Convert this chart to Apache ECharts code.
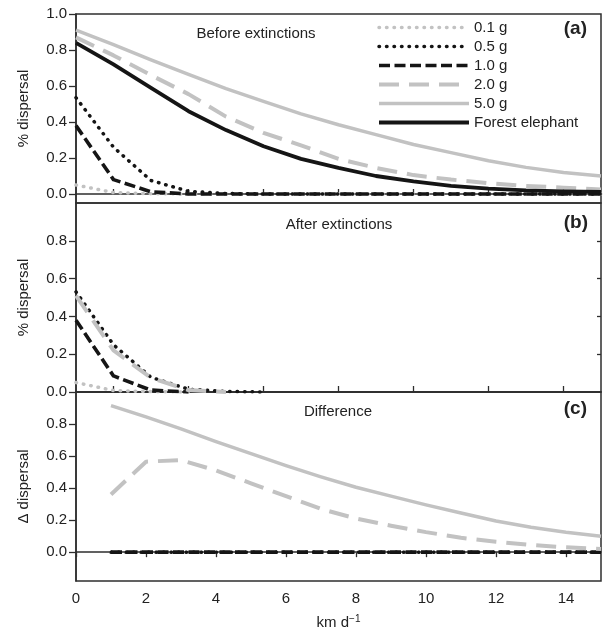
<!DOCTYPE html>
<html><head><meta charset="utf-8">
<script src="https://cdn.jsdelivr.net/npm/echarts@6/dist/echarts.min.js"></script>
<style>html,body{margin:0;padding:0;background:#fff}#c{width:605px;height:633px}</style>
</head><body><div id="c"></div>
<script>
// distance (km per day) for panels a & b, and for the difference panel c
const distAB = [0,1,2,3,4,5,6,7,8,9,10,11,12,13,14];
const distC  = [1,2,3,4,5,6,7,8,9,10,11,12,13,14,15];

const seriesNames = ['0.1 g','0.5 g','1.0 g','2.0 g','5.0 g','Forest elephant'];

// (a) Before extinctions
const before01  = [0.05,0.008,0.002,0,0,0,0,0,0,0,0,0,0,0,0];
const before05  = [0.535,0.26,0.075,0.015,0.003,0,0,0,0,0,0,0,0,0,0];
const before10  = [0.38,0.08,0.012,0,0,0,0,0,0,0,0,0,0,0,0];
const before20  = [0.87,0.77,0.66,0.555,0.43,0.34,0.27,0.195,0.145,0.105,0.08,0.06,0.045,0.035,0.025];
const before50  = [0.91,0.83,0.745,0.665,0.585,0.515,0.445,0.385,0.33,0.275,0.23,0.185,0.148,0.12,0.10];
const beforeEle = [0.84,0.72,0.59,0.46,0.355,0.265,0.195,0.145,0.10,0.07,0.045,0.03,0.02,0.015,0.012];

// (b) After extinctions (null once the curve has reached zero)
const after01 = [0.05,0.008,0.002,0,null,null,null,null,null,null,null,null,null,null,null];
const after05 = [0.53,0.25,0.078,0.015,0.003,0,null,null,null,null,null,null,null,null,null];
const after10 = [0.38,0.085,0.01,0,null,null,null,null,null,null,null,null,null,null,null];
const after20 = [0.51,0.22,0.075,0.01,0,null,null,null,null,null,null,null,null,null,null];

// (c) Difference
const diff01 = [0,0,0,0,0,0,0,0,0,0,0,0,0,0,0];
const diff05 = [0,0,0,0,0,0,0,0,0,0,0,0,0,0,0];
const diff10 = [0,0,0,0,0,0,0,0,0,0,0,0,0,0,0];
const diff20 = [0.36,0.565,0.575,0.51,0.43,0.35,0.27,0.21,0.165,0.125,0.09,0.065,0.045,0.03,0.02];
const diff50 = [0.915,0.845,0.77,0.69,0.615,0.54,0.47,0.405,0.35,0.295,0.245,0.195,0.155,0.125,0.10];

// tick values
const yTicksA = [0,0.2,0.4,0.6,0.8,1.0];
const yTicksB = [0,0.2,0.4,0.6,0.8];
const yTicksBRight = [0.2,0.4,0.6,0.8];
const yTicksC = [0,0.2,0.4,0.6,0.8];
const xTicksAB = [1,3,5,7,9,11,13];
const xTicksC = [0,2,4,6,8,10,12,14];

const FONT = '"Liberation Sans", Arial, Helvetica, sans-serif';
const GRAY = '#c2c2c2', BLACK = '#151515', AXIS = '#2e2e2e', TXT = '#222';

const styleOf = {
  '0.1 g': {color: GRAY, width: 3.5, type: [0.5, 7], cap: 'round'},
  '0.5 g': {color: BLACK, width: 3.5, type: [0.5, 7], cap: 'round'},
  '1.0 g': {color: BLACK, width: 3.6, type: [11, 4.5], cap: 'butt'},
  '2.0 g': {color: GRAY, width: 4, type: [20, 10], cap: 'butt'},
  '5.0 g': {color: GRAY, width: 3.5, type: 'solid', cap: 'butt'},
  'Forest elephant': {color: BLACK, width: 3.8, type: 'solid', cap: 'butt'}
};

function lineStyleFor(name) {
  const s = styleOf[name];
  return {color: s.color, width: s.width, type: s.type, cap: s.cap, join: 'round'};
}

function mk(name, xs, ys, gi, order) {
  return {
    name: name, type: 'line', xAxisIndex: gi, yAxisIndex: gi,
    data: xs.map((x, i) => [x, ys[i]]),
    symbol: 'none', showSymbol: false, animation: false, z: 2 + order, connectNulls: false,
    lineStyle: lineStyleFor(name),
    itemStyle: {color: styleOf[name].color}
  };
}

const series = [
  mk('0.1 g', distAB, before01, 0, 0),
  mk('0.5 g', distAB, before05, 0, 1),
  mk('1.0 g', distAB, before10, 0, 2),
  mk('2.0 g', distAB, before20, 0, 3),
  mk('5.0 g', distAB, before50, 0, 4),
  mk('Forest elephant', distAB, beforeEle, 0, 5),
  mk('0.1 g', distAB, after01, 1, 0),
  mk('0.5 g', distAB, after05, 1, 1),
  mk('1.0 g', distAB, after10, 1, 2),
  mk('2.0 g', distAB, after20, 1, 3),
  mk('0.1 g', distC, diff01, 2, 0),
  mk('0.5 g', distC, diff05, 2, 1),
  mk('1.0 g', distC, diff10, 2, 2),
  mk('2.0 g', distC, diff20, 2, 3),
  mk('5.0 g', distC, diff50, 2, 4)
];

const gridBase = {left: 76, right: 4, height: 189, show: true, borderColor: AXIS, borderWidth: 1.5, backgroundColor: 'transparent', containLabel: false};
const axisLineCommon = {show: true, lineStyle: {color: AXIS, width: 1.5}};
const labelCommon = {color: TXT, fontSize: 15, fontFamily: FONT};
const fmt1 = v => Number(v).toFixed(1);

const option = {
  backgroundColor: '#fff',
  animation: false,
  grid: [
    Object.assign({top: 14}, gridBase),
    Object.assign({top: 203}, gridBase),
    Object.assign({top: 392}, gridBase)
  ],
  xAxis: [
    {type: 'value', gridIndex: 0, min: 0, max: 14, axisLine: axisLineCommon, splitLine: {show: false},
     axisLabel: {show: false}, axisTick: {show: true, inside: true, length: 5, customValues: xTicksAB, lineStyle: {color: AXIS, width: 1.3}}},
    {type: 'value', gridIndex: 1, min: 0, max: 14, axisLine: axisLineCommon, splitLine: {show: false},
     axisLabel: {show: false}, axisTick: {show: true, inside: true, length: 6, customValues: xTicksAB, lineStyle: {color: AXIS, width: 1.3}}},
    {type: 'value', gridIndex: 2, min: 0, max: 15, axisLine: axisLineCommon, splitLine: {show: false},
     axisLabel: Object.assign({customValues: xTicksC, margin: 10}, labelCommon),
     axisTick: {show: true, length: 5, customValues: xTicksC, lineStyle: {color: AXIS, width: 1.3}},
     name: '{a|km d}{b|−1}', nameLocation: 'middle', nameGap: 33,
     nameTextStyle: {rich: {a: {fontSize: 15, fontFamily: FONT, color: TXT, lineHeight: 18}, b: {fontSize: 10, fontFamily: FONT, color: TXT, verticalAlign: 'top', lineHeight: 18}}}}
  ],
  yAxis: [
    {type: 'value', gridIndex: 0, min: -0.05, max: 1.0, axisLine: axisLineCommon, splitLine: {show: false},
     axisLabel: Object.assign({customValues: yTicksA, formatter: fmt1, margin: 9}, labelCommon),
     axisTick: {show: true, length: 7, customValues: yTicksA, lineStyle: {color: AXIS, width: 1.3}},
     name: '% dispersal', nameLocation: 'middle', nameGap: 45, nameTextStyle: {fontSize: 15, fontFamily: FONT, color: TXT}},
    {type: 'value', gridIndex: 1, min: 0, max: 1.0, axisLine: axisLineCommon, splitLine: {show: false},
     axisLabel: Object.assign({customValues: yTicksB, formatter: fmt1, margin: 9}, labelCommon),
     axisTick: {show: true, length: 7, customValues: yTicksB, lineStyle: {color: AXIS, width: 1.3}},
     name: '% dispersal', nameLocation: 'middle', nameGap: 45, nameTextStyle: {fontSize: 15, fontFamily: FONT, color: TXT}},
    {type: 'value', gridIndex: 2, min: -0.18, max: 1.0, axisLine: axisLineCommon, splitLine: {show: false},
     axisLabel: Object.assign({customValues: yTicksC, formatter: fmt1, margin: 9}, labelCommon),
     axisTick: {show: true, length: 7, customValues: yTicksC, lineStyle: {color: AXIS, width: 1.3}},
     name: 'Δ dispersal', nameLocation: 'middle', nameGap: 45, nameTextStyle: {fontSize: 15, fontFamily: FONT, color: TXT}},
    {type: 'value', gridIndex: 1, position: 'right', min: 0, max: 1.0, axisLine: {show: false}, splitLine: {show: false},
     axisLabel: {show: false},
     axisTick: {show: true, inside: true, length: 4, customValues: yTicksBRight, lineStyle: {color: AXIS, width: 1.3}}}
  ],
  legend: {
    data: seriesNames.map(n => ({name: n, lineStyle: lineStyleFor(n), itemStyle: {opacity: 0}})),
    orient: 'vertical', left: 377, top: 20, padding: 0,
    itemWidth: 90, itemHeight: 14, itemGap: 4,
    textStyle: {color: TXT, fontSize: 15, fontFamily: FONT, lineHeight: 14, padding: [0, 0, 0, 0]},
    selectedMode: false
  },
  graphic: [
    {type: 'text', x: 256, y: 34, style: {text: 'Before extinctions', fill: TXT, font: '15px ' + FONT, textAlign: 'center', textVerticalAlign: 'middle', align: 'center', verticalAlign: 'middle'}},
    {type: 'text', x: 339, y: 225, style: {text: 'After extinctions', fill: TXT, font: '15px ' + FONT, textAlign: 'center', textVerticalAlign: 'middle', align: 'center', verticalAlign: 'middle'}},
    {type: 'text', x: 338, y: 412, style: {text: 'Difference', fill: TXT, font: '15px ' + FONT, textAlign: 'center', textVerticalAlign: 'middle', align: 'center', verticalAlign: 'middle'}},
    {type: 'text', x: 587, y: 29, style: {text: '(a)', fill: TXT, font: 'bold 19px ' + FONT, textAlign: 'right', textVerticalAlign: 'middle', align: 'right', verticalAlign: 'middle'}},
    {type: 'text', x: 588, y: 223, style: {text: '(b)', fill: TXT, font: 'bold 19px ' + FONT, textAlign: 'right', textVerticalAlign: 'middle', align: 'right', verticalAlign: 'middle'}},
    {type: 'text', x: 587, y: 409, style: {text: '(c)', fill: TXT, font: 'bold 19px ' + FONT, textAlign: 'right', textVerticalAlign: 'middle', align: 'right', verticalAlign: 'middle'}}
  ],
  series: series
};

const chart = echarts.init(document.getElementById('c'), null, {renderer: 'canvas'});
chart.setOption(option);
</script>
</body></html>
